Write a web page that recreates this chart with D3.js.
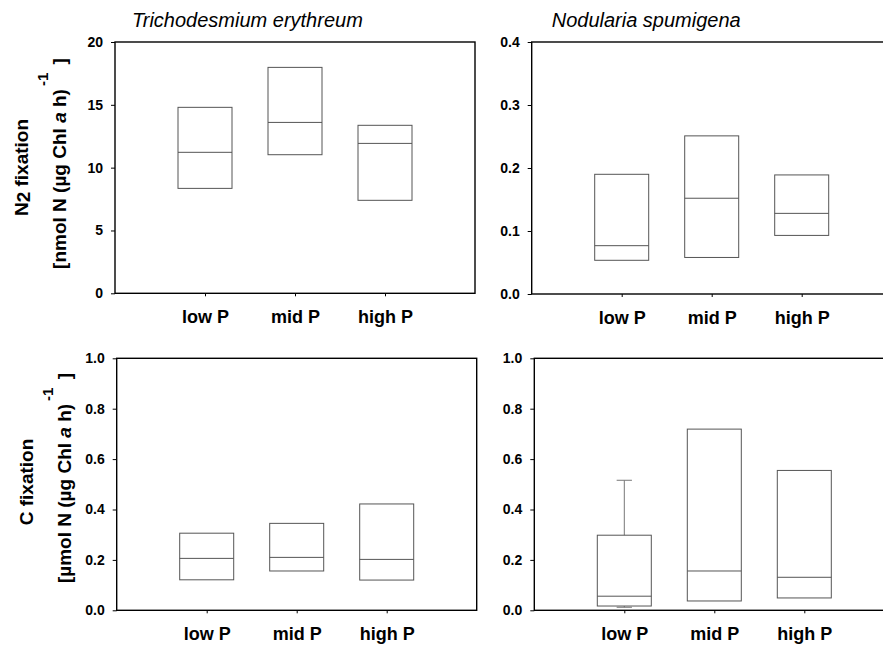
<!DOCTYPE html>
<html>
<head>
<meta charset="utf-8">
<script src="https://cdn.jsdelivr.net/npm/d3@7"></script>
<style>
  html, body { margin: 0; padding: 0; background: #fff; }
  svg { display: block; font-family: "Liberation Sans", Arial, sans-serif; }
</style>
</head>
<body>
<svg id="chart" width="883" height="646"></svg>
<script>
// ---------- data ----------
const categories = ["low P", "mid P", "high P"];

const n2TrichoBottom = [8.35, 11.03, 7.4];
const n2TrichoMedian = [11.22, 13.6, 11.93];
const n2TrichoTop    = [14.8, 17.98, 13.37];

const n2NodBottom = [0.0535, 0.058, 0.093];
const n2NodMedian = [0.0767, 0.152, 0.128];
const n2NodTop    = [0.190, 0.251, 0.189];

const cTrichoBottom = [0.121, 0.156, 0.120];
const cTrichoMedian = [0.206, 0.210, 0.202];
const cTrichoTop    = [0.306, 0.345, 0.422];

const cNodBottom = [0.017, 0.037, 0.049];
const cNodMedian = [0.056, 0.156, 0.131];
const cNodTop    = [0.298, 0.719, 0.555];
const cNodWhiskerLow  = [0.012, null, null];
const cNodWhiskerHigh = [0.516, null, null];

const n2Ticks = [0, 5, 10, 15, 20];
const n2NodTicks = [0.0, 0.1, 0.2, 0.3, 0.4];
const cTicks = [0.0, 0.2, 0.4, 0.6, 0.8, 1.0];

const titles = ["Trichodesmium erythreum", "Nodularia spumigena"];

// ---------- layout ----------
const svg = d3.select("#chart");
const plotW = 360;

const panels = [
  { left: 115,   top: 42,    bottom: 293.3, domain: [0, 20],  ticks: n2Ticks,    fmt: d3.format("d"),
    lo: n2TrichoBottom, med: n2TrichoMedian, hi: n2TrichoTop, title: titles[0], titleDx: 17 },
  { left: 531.7, top: 42,    bottom: 294,   domain: [0, 0.4], ticks: n2NodTicks, fmt: d3.format(".1f"),
    lo: n2NodBottom, med: n2NodMedian, hi: n2NodTop, title: titles[1], titleDx: 20 },
  { left: 116.7, top: 358.3, bottom: 610.3, domain: [0, 1],   ticks: cTicks,     fmt: d3.format(".1f"),
    lo: cTrichoBottom, med: cTrichoMedian, hi: cTrichoTop },
  { left: 534.3, top: 358.3, bottom: 610.3, domain: [0, 1],   ticks: cTicks,     fmt: d3.format(".1f"),
    lo: cNodBottom, med: cNodMedian, hi: cNodTop, wLo: cNodWhiskerLow, wHi: cNodWhiskerHigh }
];

const boxStroke = "#555";

panels.forEach(p => {
  const x = d3.scaleLinear().domain([0, 4]).range([p.left, p.left + plotW]);
  const y = d3.scaleLinear().domain(p.domain).range([p.bottom, p.top]);
  const g = svg.append("g");

  // frame
  g.append("rect")
    .attr("x", p.left).attr("y", p.top)
    .attr("width", plotW).attr("height", p.bottom - p.top)
    .attr("fill", "none").attr("stroke", "#000").attr("stroke-width", 1.4);

  // y axis
  const ya = g.append("g")
    .attr("transform", `translate(${p.left},0)`)
    .call(d3.axisLeft(y).tickValues(p.ticks).tickFormat(p.fmt).tickSize(4).tickPadding(8));
  ya.select(".domain").remove();
  ya.selectAll("line").attr("stroke", "#000").attr("stroke-width", 1);
  ya.selectAll("text").attr("font-size", 14).attr("font-weight", "bold")
    .attr("fill", "#000").attr("font-family", "'Liberation Sans', Arial, sans-serif");

  // x axis
  const xa = g.append("g")
    .attr("transform", `translate(0,${p.bottom})`)
    .call(d3.axisBottom(x).tickValues([1, 2, 3]).tickFormat(d => categories[d - 1]).tickSize(3).tickPadding(14));
  xa.select(".domain").remove();
  xa.selectAll("line").attr("stroke", "#000").attr("stroke-width", 1);
  xa.selectAll("text").attr("font-size", 18).attr("font-weight", "bold")
    .attr("fill", "#000").attr("font-family", "'Liberation Sans', Arial, sans-serif");

  // boxes
  const boxW = 0.6;
  categories.forEach((c, i) => {
    const cx = i + 1;
    // whiskers
    if (p.wHi && p.wHi[i] != null) {
      g.append("line")
        .attr("x1", x(cx)).attr("x2", x(cx))
        .attr("y1", y(p.hi[i])).attr("y2", y(p.wHi[i]))
        .attr("stroke", "#777").attr("stroke-width", 1);
      g.append("line")
        .attr("x1", x(cx - 0.085)).attr("x2", x(cx + 0.085))
        .attr("y1", y(p.wHi[i])).attr("y2", y(p.wHi[i]))
        .attr("stroke", "#777").attr("stroke-width", 1);
    }
    if (p.wLo && p.wLo[i] != null) {
      g.append("line")
        .attr("x1", x(cx)).attr("x2", x(cx))
        .attr("y1", y(p.lo[i])).attr("y2", y(p.wLo[i]))
        .attr("stroke", "#777").attr("stroke-width", 1);
      g.append("line")
        .attr("x1", x(cx - 0.085)).attr("x2", x(cx + 0.085))
        .attr("y1", y(p.wLo[i])).attr("y2", y(p.wLo[i]))
        .attr("stroke", "#777").attr("stroke-width", 1);
    }
    g.append("rect")
      .attr("x", x(cx - boxW / 2)).attr("y", y(p.hi[i]))
      .attr("width", x(cx + boxW / 2) - x(cx - boxW / 2))
      .attr("height", y(p.lo[i]) - y(p.hi[i]))
      .attr("fill", "none").attr("stroke", boxStroke).attr("stroke-width", 1);
    g.append("line")
      .attr("x1", x(cx - boxW / 2)).attr("x2", x(cx + boxW / 2))
      .attr("y1", y(p.med[i])).attr("y2", y(p.med[i]))
      .attr("stroke", boxStroke).attr("stroke-width", 1);
  });

  if (p.title) {
    g.append("text")
      .attr("x", p.left + p.titleDx).attr("y", 26.5)
      .attr("font-size", 20).attr("font-style", "italic")
      .attr("fill", "#000")
      .text(p.title);
  }
});

// ---------- y-axis titles ----------
function yTitle(line1Parts, line2Pre, cy, x1, x2) {
  const t1 = svg.append("text")
    .attr("transform", `translate(${x1},${cy}) rotate(-90)`)
    .attr("text-anchor", "middle")
    .attr("font-size", 19).attr("font-weight", "bold").attr("fill", "#000");
  line1Parts.forEach(pt => {
    const ts = t1.append("tspan").text(pt.t);
    if (pt.dy) ts.attr("dy", pt.dy);
  });

  const t2 = svg.append("text")
    .attr("transform", `translate(${x2},${cy - 4}) rotate(-90)`)
    .attr("text-anchor", "middle")
    .attr("font-size", 19).attr("font-weight", "bold").attr("fill", "#000");
  t2.append("tspan").text(line2Pre);
  t2.append("tspan").attr("font-style", "italic").text("a");
  t2.append("tspan").text(" h)");
  t2.append("tspan").attr("font-size", 15).attr("dy", -18).attr("dx", 3).text("-1");
  t2.append("tspan").attr("dy", 18).attr("dx", 3).text(" ]");
}

yTitle([{ t: "N" }, { t: "2", dy: 2 }, { t: " fixation", dy: -2 }], "[nmol N (µg Chl ", 167.5, 28, 66);
yTitle([{ t: "C fixation" }], "[µmol N (µg Chl ", 482, 33, 71);
</script>
</body>
</html>
